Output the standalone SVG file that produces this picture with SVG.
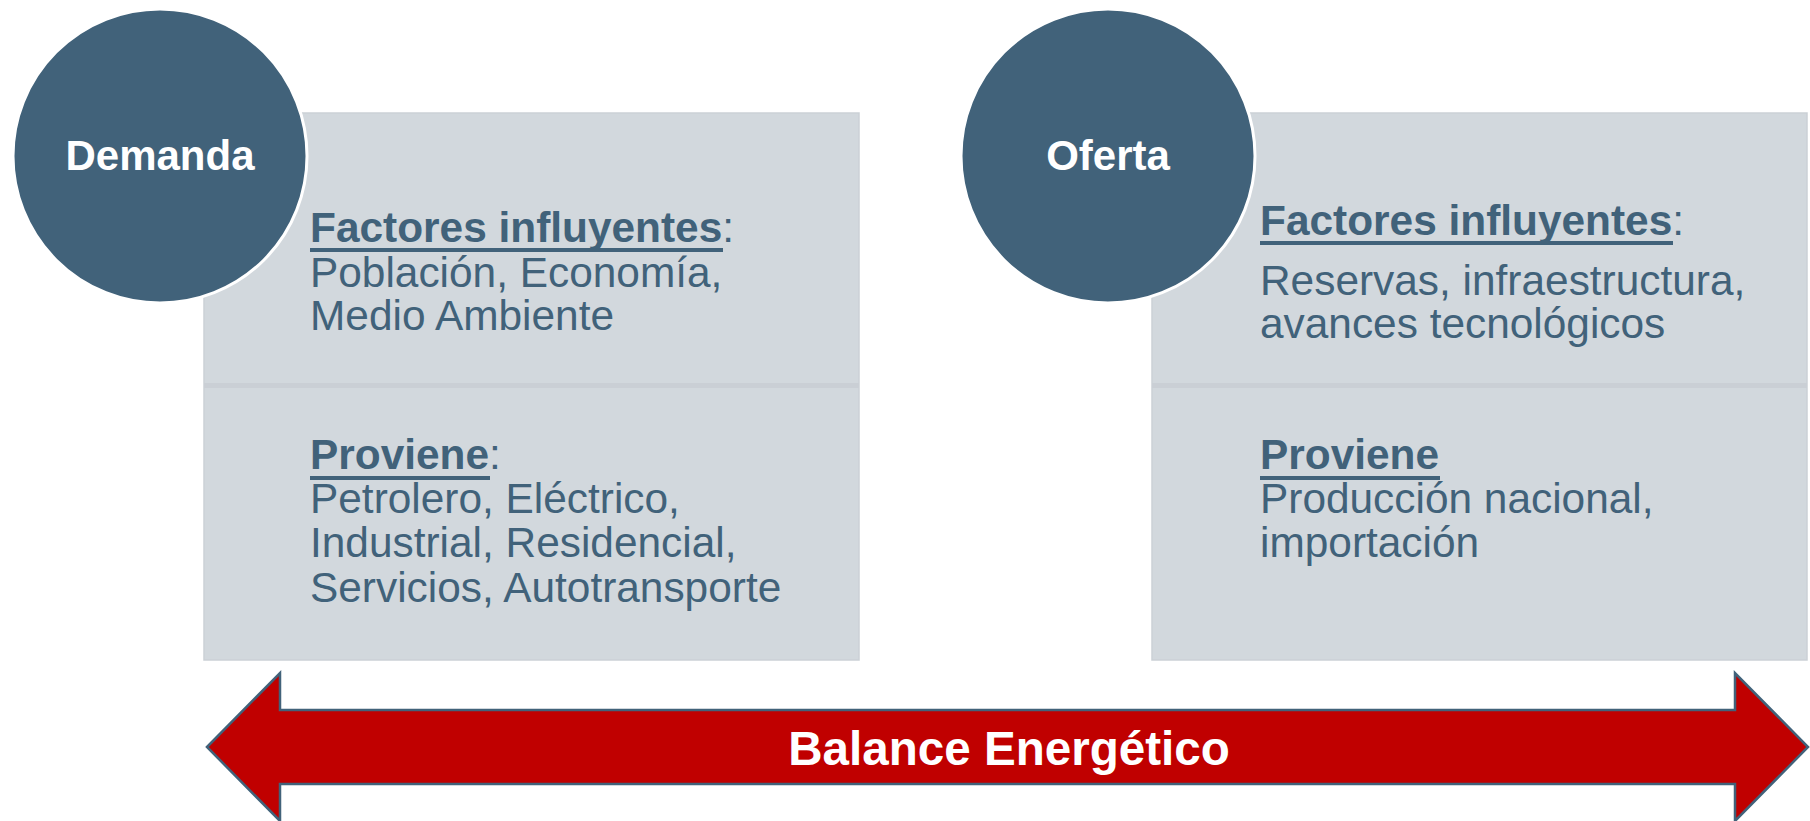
<svg xmlns="http://www.w3.org/2000/svg" width="1810" height="821" viewBox="0 0 1810 821">
  <style>
    .box { fill: #D2D8DD; stroke: #CBD1D6; stroke-width: 1.5; }
    .div { fill: #CACFD5; }
    .circ { fill: #41627A; stroke: #FFFFFF; stroke-width: 3; }
    .ctitle { font-family: "Liberation Sans", Arial, sans-serif; font-weight: bold; font-size: 42px; fill: #FFFFFF; text-anchor: middle; }
    .body { font-family: "Liberation Sans", Arial, sans-serif; font-size: 42.4px; fill: #41627A; }
    .hd { font-weight: bold; }
    .ul { fill: #41627A; }
    .arrow { fill: #C00000; stroke: #41627A; stroke-width: 2.5; stroke-linejoin: miter; }
    .atext { font-family: "Liberation Sans", Arial, sans-serif; font-weight: bold; font-size: 47.6px; fill: #FFFFFF; text-anchor: middle; }
  </style>

  <g id="demanda-box">
    <rect class="box" x="204" y="113" width="655" height="547"/>
    <rect class="div" x="204" y="383" width="655" height="5"/>
    <text class="body" x="310" y="242"><tspan class="hd">Factores influyentes</tspan>:</text>
    <rect class="ul" x="310" y="248" width="413" height="4"/>
    <text class="body" x="310" y="287">Población, Economía,</text>
    <text class="body" x="310" y="330">Medio Ambiente</text>
    <text class="body" x="310" y="469"><tspan class="hd">Proviene</tspan>:</text>
    <rect class="ul" x="310" y="476" width="180" height="4"/>
    <text class="body" x="310" y="513">Petrolero, Eléctrico,</text>
    <text class="body" x="310" y="557">Industrial, Residencial,</text>
    <text class="body" x="310" y="602">Servicios, Autotransporte</text>
  </g>

  <g id="oferta-box">
    <rect class="box" x="1152" y="113" width="655" height="547"/>
    <rect class="div" x="1152" y="383" width="655" height="5"/>
    <text class="body" x="1260" y="235"><tspan class="hd">Factores influyentes</tspan>:</text>
    <rect class="ul" x="1260" y="241" width="413" height="4"/>
    <text class="body" x="1260" y="295">Reservas, infraestructura,</text>
    <text class="body" x="1260" y="338">avances tecnológicos</text>
    <text class="body hd" x="1260" y="469">Proviene</text>
    <rect class="ul" x="1260" y="476" width="180" height="4"/>
    <text class="body" x="1260" y="513">Producción nacional,</text>
    <text class="body" x="1260" y="557">importación</text>
  </g>

  <g id="demanda">
    <circle class="circ" cx="160" cy="156" r="147"/>
    <text class="ctitle" x="160" y="170">Demanda</text>
  </g>

  <g id="oferta">
    <circle class="circ" cx="1108" cy="156" r="147"/>
    <text class="ctitle" x="1108" y="170">Oferta</text>
  </g>

  <g id="connectors">
    <g id="balance">
      <path class="arrow" d="M207,747 L280,673 L280,710 L1735,710 L1735,673 L1808,747 L1735,821 L1735,784 L280,784 L280,821 Z"/>
      <text class="atext" x="1009" y="765">Balance Energético</text>
    </g>
  </g>
</svg>
